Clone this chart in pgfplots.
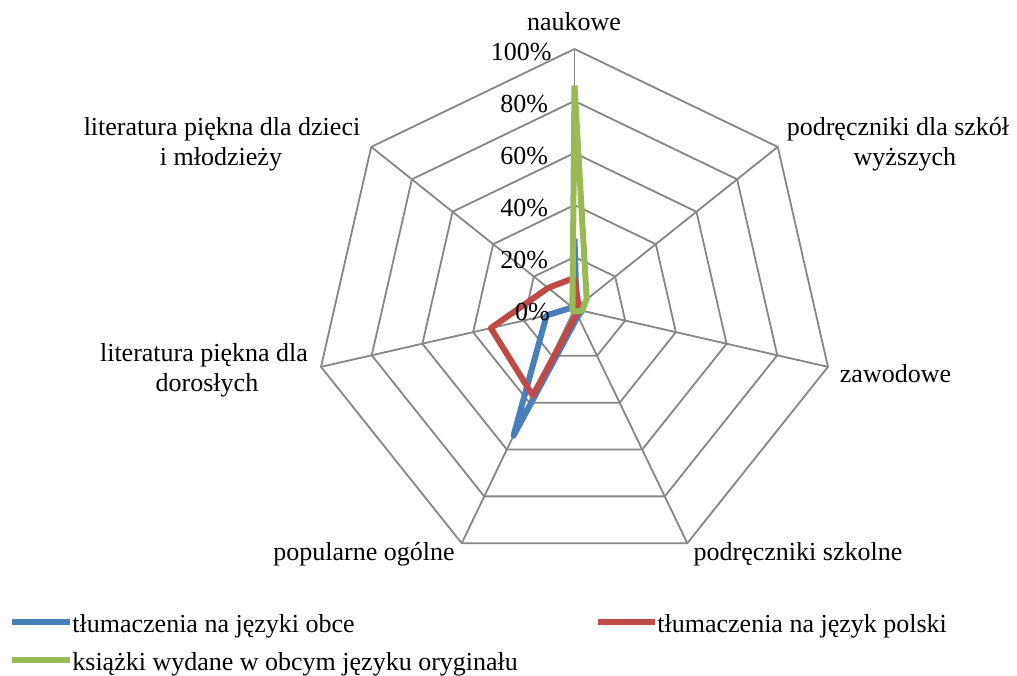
\documentclass[border=0pt]{standalone}
\usepackage{fontspec}
\setmainfont{Liberation Serif}
\usepackage{pgfplots}
\pgfplotsset{compat=1.18}
\definecolor{gridc}{RGB}{134,134,134}
\definecolor{cblue}{RGB}{74,126,187}
\definecolor{cred}{RGB}{190,75,72}
\definecolor{cgreen}{RGB}{152,185,84}
\begin{document}
\fontsize{13}{15.6}\selectfont
\begin{tikzpicture}[every node/.append style={font=\fontsize{13}{15.6}\selectfont, inner sep=0pt}]
\begin{axis}[x=1.3pt, y=1.3pt, hide axis, scale only axis, clip=false,
  xmin=-220.96, xmax=170.19, ymin=-140.77, ymax=118.85]
\path (axis cs:-220.96,-140.77) rectangle (axis cs:170.19,118.85);
% grid heptagons
\addplot[gridc, line width=0.9pt, data cs=polar] coordinates {(90,20)(38.5714,20)(-12.8571,20)(-64.2857,20)(-115.7143,20)(-167.1429,20)(141.4286,20)(90,20)};
\addplot[gridc, line width=0.9pt, data cs=polar] coordinates {(90,40)(38.5714,40)(-12.8571,40)(-64.2857,40)(-115.7143,40)(-167.1429,40)(141.4286,40)(90,40)};
\addplot[gridc, line width=0.9pt, data cs=polar] coordinates {(90,60)(38.5714,60)(-12.8571,60)(-64.2857,60)(-115.7143,60)(-167.1429,60)(141.4286,60)(90,60)};
\addplot[gridc, line width=0.9pt, data cs=polar] coordinates {(90,80)(38.5714,80)(-12.8571,80)(-64.2857,80)(-115.7143,80)(-167.1429,80)(141.4286,80)(90,80)};
\addplot[gridc, line width=0.9pt, data cs=polar] coordinates {(90,100)(38.5714,100)(-12.8571,100)(-64.2857,100)(-115.7143,100)(-167.1429,100)(141.4286,100)(90,100)};
% spokes
\addplot[gridc, line width=0.9pt, data cs=polar] coordinates {(90,0)(90,100)};
\addplot[gridc, line width=0.9pt, data cs=polar] coordinates {(38.5714,0)(38.5714,100)};
\addplot[gridc, line width=0.9pt, data cs=polar] coordinates {(-12.8571,0)(-12.8571,100)};
\addplot[gridc, line width=0.9pt, data cs=polar] coordinates {(-64.2857,0)(-64.2857,100)};
\addplot[gridc, line width=0.9pt, data cs=polar] coordinates {(-115.7143,0)(-115.7143,100)};
\addplot[gridc, line width=0.9pt, data cs=polar] coordinates {(-167.1429,0)(-167.1429,100)};
\addplot[gridc, line width=0.9pt, data cs=polar] coordinates {(141.4286,0)(141.4286,100)};
% series
\addplot[cblue, line width=3pt, line join=round, data cs=polar] coordinates {(90,27)(38.5714,1)(-12.8571,3)(-64.2857,3)(-115.7143,54)(-167.1429,11)(141.4286,1)(90,27)};
\addplot[cred, line width=3pt, line join=round, data cs=polar] coordinates {(90,12)(38.5714,2)(-12.8571,1)(-64.2857,2)(-115.7143,37)(-167.1429,33)(141.4286,13)(90,12)};
\addplot[cgreen, line width=3pt, line join=round, data cs=polar] coordinates {(90,86)(38.5714,6)(-12.8571,3)(-64.2857,1)(-115.7143,1)(-167.1429,1)(141.4286,1)(90,86)};
% radial tick labels
\node[anchor=east] at (axis cs:-9.4,-1.2) {0\%};
\node[anchor=east] at (axis cs:-10.0,18.8) {20\%};
\node[anchor=east] at (axis cs:-10.0,38.8) {40\%};
\node[anchor=east] at (axis cs:-10.0,58.8) {60\%};
\node[anchor=east] at (axis cs:-10.0,78.8) {80\%};
\node[anchor=east] at (axis cs:-8.7,98.8) {100\%};
% category labels
\node[anchor=base] at (axis cs:-0.19,106.92) {naukowe};
\node[anchor=base] at (axis cs:124.42,66.54) {podręczniki dla szkół};
\node[anchor=base] at (axis cs:127.1,55.0) {wyższych};
\node[anchor=base] at (axis cs:123.46,-28.08) {zawodowe};
\node[anchor=base] at (axis cs:85.96,-96.54) {podręczniki szkolne};
\node[anchor=base] at (axis cs:-80.96,-96.54) {popularne ogólne};
\node[anchor=base] at (axis cs:-142.5,-20.38) {literatura piękna dla};
\node[anchor=base] at (axis cs:-141.35,-31.92) {dorosłych};
\node[anchor=base] at (axis cs:-135.58,66.92) {literatura piękna dla dzieci};
\node[anchor=base] at (axis cs:-135.96,55.38) {i młodzieży};
% legend
\draw[cblue, line width=3pt] (axis cs:-216.35,-120.38) -- (axis cs:-194.04,-120.38);
\node[anchor=base west] at (axis cs:-193.27,-124.6) {tłumaczenia na języki obce};
\draw[cred, line width=3pt] (axis cs:9.04,-120.38) -- (axis cs:30.96,-120.38);
\node[anchor=base west] at (axis cs:31.73,-124.6) {tłumaczenia na język polski};
\draw[cgreen, line width=3pt] (axis cs:-216.35,-135.0) -- (axis cs:-194.04,-135.0);
\node[anchor=base west] at (axis cs:-193.27,-138.85) {książki wydane w obcym języku oryginału};
\end{axis}
\end{tikzpicture}
\end{document}
